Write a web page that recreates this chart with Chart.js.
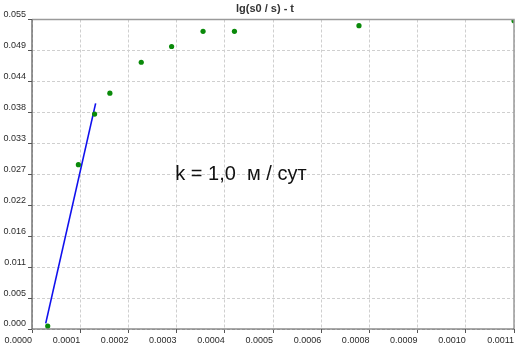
<!DOCTYPE html>
<html>
<head>
<meta charset="utf-8">
<script src="https://cdn.jsdelivr.net/npm/chart.js@4/dist/chart.umd.min.js"></script>
<style>
  html, body { margin: 0; padding: 0; background: #ffffff; }
  #wrap { width: 525px; height: 348px; position: relative; }
</style>
</head>
<body>
<div id="wrap"><canvas id="c" width="525" height="348"></canvas></div>
<script>
// Measured points: t (x) and lg(s0/s) (y)
const pointsX = [0.0000359, 0.0001059, 0.0001429, 0.0001777, 0.0002493, 0.0003186, 0.0003904, 0.000462, 0.0007462, 0.0011];
const pointsY = [0.00053, 0.0292, 0.0382, 0.0419, 0.0474, 0.0502, 0.0529, 0.0529, 0.0539, 0.0548];
// Fitted straight line (endpoints)
const fitX = [0.0000313, 0.0001452];
const fitY = [0.00101, 0.0401];
// Axis tick labels
const xTickLabels = ['0.0000', '0.0001', '0.0002', '0.0003', '0.0004', '0.0005', '0.0006', '0.0008', '0.0009', '0.0010', '0.0011'];
const yTickLabels = ['0.000', '0.005', '0.011', '0.016', '0.022', '0.027', '0.033', '0.038', '0.044', '0.049', '0.055'];
const xMax = 0.0011;
const yMax = 0.055;
const titleText = 'lg(s0 / s) - t';
const noteText = 'k = 1,0  м / сут';
const notePos = { x: 0.000327, y: 0.0274 };

const FONT = "'Liberation Sans', Arial, sans-serif";

const framePlugin = {
  id: 'frame',
  afterDatasetsDraw(chart) {
    const { ctx, chartArea: a } = chart;
    ctx.save();
    ctx.strokeStyle = '#9a9a9a';
    ctx.lineWidth = 1.5;
    ctx.beginPath();
    ctx.moveTo(a.left, a.top);
    ctx.lineTo(a.right, a.top);
    ctx.lineTo(a.right, a.bottom);
    ctx.stroke();
    ctx.strokeStyle = '#555555';
    ctx.lineWidth = 1.2;
    ctx.beginPath();
    ctx.moveTo(a.left, a.top);
    ctx.lineTo(a.left, a.bottom);
    ctx.lineTo(a.right, a.bottom);
    ctx.stroke();
    // title
    ctx.fillStyle = '#333333';
    ctx.font = 'bold 11px ' + FONT;
    ctx.textAlign = 'center';
    ctx.textBaseline = 'middle';
    ctx.fillText(titleText, 265, 9);
    // annotation text
    const xs = chart.scales.x, ys = chart.scales.y;
    ctx.fillStyle = '#111111';
    ctx.font = '20px ' + FONT;
    ctx.textAlign = 'left';
    ctx.textBaseline = 'middle';
    ctx.fillText(noteText, xs.getPixelForValue(notePos.x), ys.getPixelForValue(notePos.y));
    ctx.restore();
  }
};

const scatterData = pointsX.map((x, i) => ({ x, y: pointsY[i] }));
const fitData = fitX.map((x, i) => ({ x, y: fitY[i] }));

const gridOpts = {
  color: '#cfcfcf',
  lineWidth: 1,
  tickLength: 4,
  tickColor: '#555555',
  tickBorderDash: [],
  tickWidth: 1,
  drawTicks: true
};

new Chart(document.getElementById('c'), {
  type: 'scatter',
  data: {
    datasets: [
      {
        type: 'line',
        data: fitData,
        borderColor: '#1010ee',
        borderWidth: 1.6,
        pointRadius: 0,
        fill: false,
        order: 2
      },
      {
        data: scatterData,
        backgroundColor: '#0a8a0a',
        borderColor: '#0a8a0a',
        borderWidth: 0,
        pointRadius: 2.6,
        order: 1
      }
    ]
  },
  options: {
    responsive: false,
    animation: false,
    devicePixelRatio: 1,
    layout: { padding: { left: 0, right: 11, top: 19.5, bottom: 0 } },
    plugins: {
      legend: { display: false },
      tooltip: { enabled: false },
      title: { display: false }
    },
    scales: {
      x: {
        type: 'linear',
        min: 0,
        max: xMax,
        afterBuildTicks(scale) {
          scale.ticks = xTickLabels.map((_, i) => ({ value: xMax * i / 10 }));
        },
        afterFit(scale) { scale.height = 19; },
        ticks: {
          align: 'end',
          autoSkip: false,
          maxRotation: 0,
          padding: 2,
          color: '#2a2a2a',
          font: { family: FONT, size: 9 },
          callback: (v, i) => xTickLabels[i]
        },
        grid: gridOpts,
        border: { display: false, dash: [3, 2] }
      },
      y: {
        type: 'linear',
        min: 0,
        max: yMax,
        afterBuildTicks(scale) {
          scale.ticks = yTickLabels.map((_, i) => ({ value: yMax * i / 10 }));
        },
        afterFit(scale) { scale.width = 32; },
        ticks: {
          autoSkip: false,
          padding: 2,
          labelOffset: -5,
          color: '#2a2a2a',
          font: { family: FONT, size: 9 },
          callback: (v, i) => yTickLabels[i]
        },
        grid: gridOpts,
        border: { display: false, dash: [3, 2] }
      }
    }
  },
  plugins: [framePlugin]
});
</script>
</body>
</html>
